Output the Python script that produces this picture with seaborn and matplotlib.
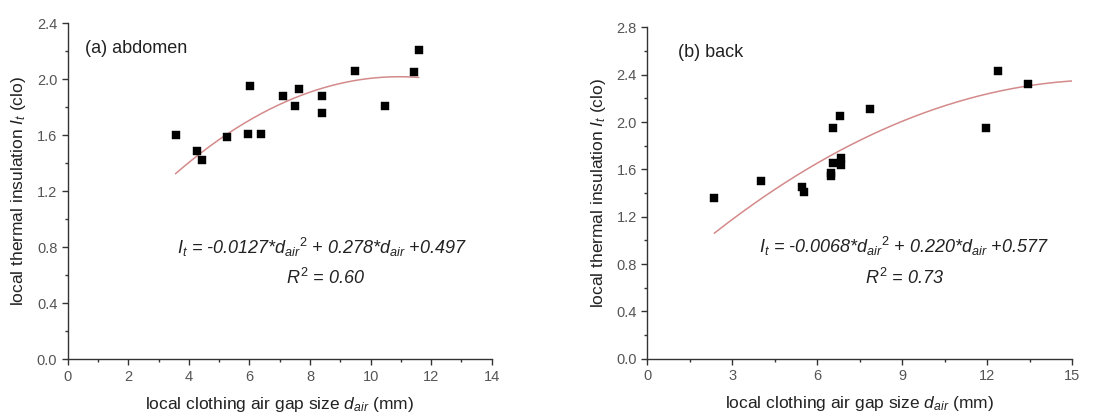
import numpy as np
import pandas as pd
import matplotlib
matplotlib.use("Agg")
import matplotlib.pyplot as plt
from matplotlib.ticker import MultipleLocator
import seaborn as sns

# ---- data ----
abd_x = [3.56, 4.26, 4.43, 5.26, 5.94, 6.03, 6.37, 7.12, 7.51, 7.64, 8.39, 8.39, 9.50, 10.47, 11.44, 11.59]
abd_y = [1.60, 1.49, 1.42, 1.59, 1.61, 1.95, 1.61, 1.88, 1.81, 1.93, 1.88, 1.76, 2.06, 1.81, 2.05, 2.21]
back_x = [2.37, 4.02, 5.45, 5.55, 6.48, 6.48, 6.56, 6.56, 6.81, 6.85, 6.85, 7.85, 11.95, 12.39, 13.45]
back_y = [1.36, 1.50, 1.45, 1.41, 1.57, 1.54, 1.65, 1.95, 2.05, 1.70, 1.64, 2.11, 1.95, 2.43, 2.32]

# quadratic fit coefficients (from the equations printed on the chart)
abd_coef = [-0.0127, 0.278, 0.497]
abd_range = [3.56, 11.59]
back_coef = [-0.0068, 0.220, 0.577]
back_range = [2.37, 15.0]

abd_label = "(a) abdomen"
back_label = "(b) back"
abd_eq = r"$\mathit{I_t}$ = -0.0127*$\mathit{d_{air}}{}^{\mathit{2}}$ + 0.278*$\mathit{d_{air}}$ +0.497"
abd_r2 = r"$\mathit{R}^{\mathit{2}}$ = 0.60"
back_eq = r"$\mathit{I_t}$ = -0.0068*$\mathit{d_{air}}{}^{\mathit{2}}$ + 0.220*$\mathit{d_{air}}$ +0.577"
back_r2 = r"$\mathit{R}^{\mathit{2}}$ = 0.73"

sns.set_theme(style="ticks")
plt.rcParams["font.family"] = ["Liberation Sans", "DejaVu Sans"]
plt.rcParams["mathtext.fontset"] = "custom"
plt.rcParams["mathtext.rm"] = "Liberation Sans"
plt.rcParams["mathtext.it"] = "Liberation Sans:italic"
plt.rcParams["mathtext.bf"] = "Liberation Sans:bold"

fig = plt.figure(figsize=(11.08, 4.16), dpi=100)
ax1 = fig.add_axes([0.0611, 0.1363, 0.3827, 0.8077])
ax2 = fig.add_axes([0.5840, 0.1377, 0.3838, 0.7966])

curve_color = "#d48a8a"
axis_color = "#333333"

def draw(ax, xs, ys, coef, xr, xlim, ylim, xmaj, xmin, label, lab_xy, eq, eq_xy, r2, r2_xy):
    df = pd.DataFrame({"x": xs, "y": ys})
    xx = np.linspace(xr[0], xr[1], 200)
    fit = pd.DataFrame({"x": xx, "y": np.polyval(coef, xx)})
    sns.lineplot(data=fit, x="x", y="y", ax=ax, color=curve_color, lw=1.1)
    sns.scatterplot(data=df, x="x", y="y", ax=ax, marker="s", s=30, color="black",
                    edgecolor="black", linewidth=0.3, zorder=3)
    ax.set_xlim(*xlim)
    ax.set_ylim(*ylim)
    ax.xaxis.set_major_locator(MultipleLocator(xmaj))
    ax.xaxis.set_minor_locator(MultipleLocator(xmin))
    ax.yaxis.set_major_locator(MultipleLocator(0.4))
    ax.yaxis.set_minor_locator(MultipleLocator(0.2))
    ax.yaxis.set_major_formatter(matplotlib.ticker.FormatStrFormatter("%.1f"))
    ax.xaxis.set_major_formatter(matplotlib.ticker.FormatStrFormatter("%d"))
    for s in ["top", "right"]:
        ax.spines[s].set_visible(False)
    for s in ["left", "bottom"]:
        ax.spines[s].set_color(axis_color)
        ax.spines[s].set_linewidth(1.0)
    ax.tick_params(which="major", direction="out", length=4, width=1.0,
                   colors=axis_color, labelsize=10.5, labelcolor="#555555")
    ax.tick_params(which="minor", direction="out", length=2.5, width=1.0, colors=axis_color)
    ax.set_xlabel(r"local clothing air gap size $\mathit{d_{air}}$ (mm)", fontsize=12.5,
                  color="#222222", labelpad=8)
    ax.set_ylabel(r"local thermal insulation $\mathit{I_t}$ (clo)", fontsize=12.5,
                  color="#222222", labelpad=6)
    ax.text(lab_xy[0], lab_xy[1], label, fontsize=13, color="#222222", va="center", ha="left")
    ax.text(eq_xy[0], eq_xy[1], eq, fontsize=13, style="italic", color="#222222",
            ha="center", va="center")
    ax.text(r2_xy[0], r2_xy[1], r2, fontsize=13, style="italic", color="#222222",
            ha="center", va="center")

draw(ax1, abd_x, abd_y, abd_coef, abd_range, (0, 14), (0, 2.4), 2, 1, abd_label,
     (0.57, 2.22), abd_eq, (8.4, 0.80), abd_r2, (8.5, 0.58))
draw(ax2, back_x, back_y, back_coef, back_range, (0, 15), (0, 2.8), 3, 1.5, back_label,
     (1.1, 2.59), back_eq, (9.06, 0.95), back_r2, (9.1, 0.68))

fig.savefig("out.png", dpi=100)
